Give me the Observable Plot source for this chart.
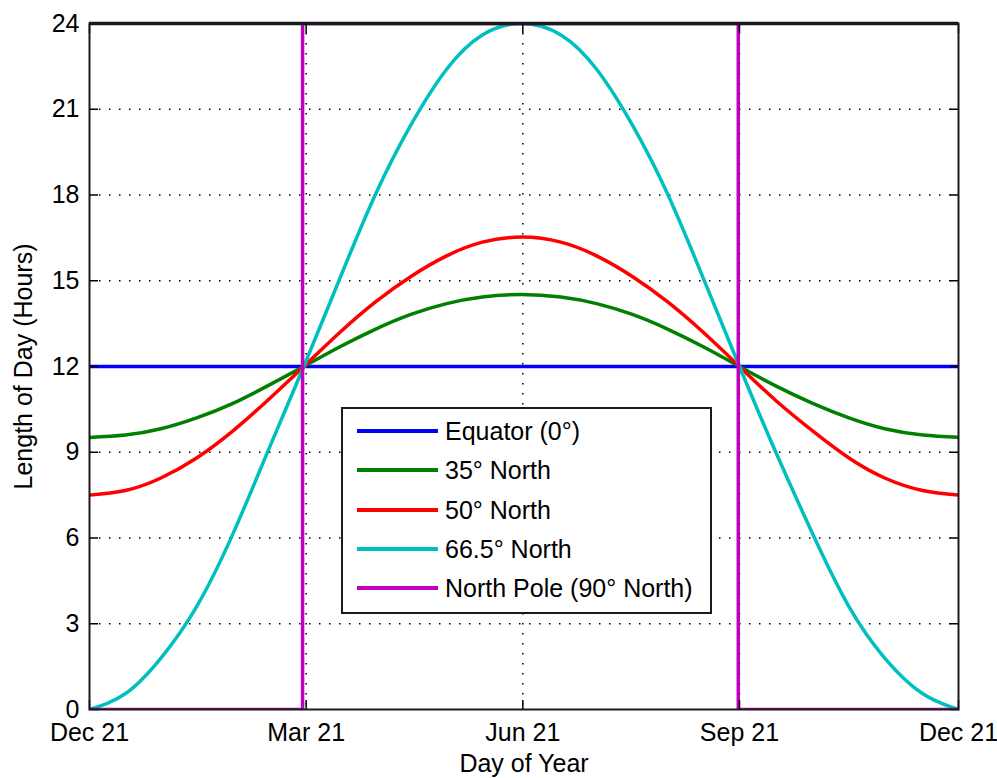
<!DOCTYPE html>
<html>
<head>
<meta charset="utf-8">
<script src="https://cdn.jsdelivr.net/npm/d3@7"></script>
<script src="https://cdn.jsdelivr.net/npm/@observablehq/plot@0.6"></script>
<style>
  body { margin: 0; background: white; }
  #wrap { position: relative; width: 997px; height: 778px; font-family: "Liberation Sans", Arial, sans-serif; }
  #legend { position: absolute; left: 341px; top: 407px; width: 367px; height: 203px; border: 2px solid #1a1a1a; background: white; }
  .row { position: absolute; left: 0; height: 0; }
  .sw { position: absolute; left: 14px; width: 81px; height: 4px; top: -2px; }
  .lab { position: absolute; left: 102px; top: -15px; font-size: 25px; line-height: 30px; white-space: nowrap; color: #000; }
</style>
</head>
<body>
<div id="wrap"></div>
<script>
// ---- data ----
const seriesNames = ["Equator (0°)", "35° North", "50° North", "66.5° North", "North Pole (90° North)"];
const seriesColors = ["#0000ff", "#008000", "#ff0000", "#00bfbf", "#bf00bf"];

const equatorDays = [0, 365];
const equatorHours = [12, 12];

const curveDays = [0, 15, 30, 45, 60, 75, 90, 105, 120, 135, 150, 165, 181.5,
                   198, 213, 228, 243, 258, 273, 288, 304, 319, 334, 350, 365];
const north35Hours = [9.52, 9.6, 9.82, 10.2, 10.7, 11.33, 12.0, 12.68, 13.3, 13.82, 14.2, 14.43, 14.52,
                      14.43, 14.2, 13.82, 13.3, 12.68, 12.0, 11.33, 10.7, 10.2, 9.82, 9.6, 9.52];
const north50Hours = [7.5, 7.66, 8.1, 8.8, 9.73, 10.83, 12.0, 13.18, 14.25, 15.15, 15.87, 16.35, 16.53,
                      16.35, 15.87, 15.15, 14.25, 13.18, 12.0, 10.83, 9.73, 8.8, 8.1, 7.66, 7.5];
const north665Hours = [0, 0.55, 1.8, 3.6, 6.1, 9.05, 12.0, 15.05, 18.0, 20.45, 22.4, 23.6, 24,
                       23.6, 22.4, 20.45, 18.0, 15.05, 12.0, 9.05, 6.1, 3.6, 1.8, 0.55, 0];

const poleDays = [0, 89.5, 89.5, 272.5, 272.5, 365];
const poleHours = [0, 0, 24, 24, 0, 0];

const xTicks = [0, 91, 182, 273, 365];
const xTickLabels = ["Dec 21", "Mar 21", "Jun 21", "Sep 21", "Dec 21"];
const yTicks = [0, 3, 6, 9, 12, 15, 18, 21, 24];
const xGridTicks = [91, 182, 273];
const yGridTicks = [3, 6, 9, 12, 15, 18, 21];
const yTop = [24];

// ---- tables ----
const toRows = (days, hours, name) => days.map((d, i) => ({day: d, hours: hours[i], series: name}));
const equator = toRows(equatorDays, equatorHours, seriesNames[0]);
const smooth = [
  ...toRows(curveDays, north35Hours, seriesNames[1]),
  ...toRows(curveDays, north50Hours, seriesNames[2]),
  ...toRows(curveDays, north665Hours, seriesNames[3])
];
const pole = toRows(poleDays, poleHours, seriesNames[4]);

const FS = 25;
const chart = Plot.plot({
  width: 997,
  height: 778,
  marginLeft: 89,
  marginRight: 39,
  marginTop: 23,
  marginBottom: 69,
  style: {fontFamily: "'Liberation Sans', Arial, sans-serif", fontSize: FS + "px", background: "white", color: "black"},
  x: {domain: [0, 365]},
  y: {domain: [0, 24]},
  color: {domain: seriesNames, range: seriesColors},
  marks: [
    Plot.gridY(yGridTicks, {stroke: "black", strokeOpacity: 1, strokeWidth: 1.5, strokeDasharray: "1.5,8.5"}),
    Plot.gridX(xGridTicks, {stroke: "black", strokeOpacity: 1, strokeWidth: 1.5, strokeDasharray: "1.5,8.5"}),
    Plot.line(equator, {x: "day", y: "hours", stroke: "series", strokeWidth: 3.5, clip: true}),
    Plot.line(smooth, {x: "day", y: "hours", z: "series", stroke: "series", strokeWidth: 3.5, curve: "natural", clip: true}),
    Plot.line(pole, {x: "day", y: "hours", stroke: "series", strokeWidth: 3.5, clip: true}),
    Plot.ruleY(yTop, {stroke: "#1a1a1a", strokeWidth: 3.6}),
    Plot.axisY({anchor: "left", ticks: yTicks, tickSize: -9, tickPadding: 19, label: null, fontSize: FS, strokeWidth: 1.5}),
    Plot.axisY({anchor: "right", ticks: yTicks, tickSize: -9, tickFormat: () => "", label: null, strokeWidth: 1.5}),
    Plot.axisX({anchor: "bottom", ticks: xTicks, tickSize: -9, tickPadding: 23, tickFormat: (d, i) => xTickLabels[i], label: null, fontSize: FS, strokeWidth: 1.5}),
    Plot.axisX({anchor: "top", ticks: xTicks, tickSize: -9, tickFormat: () => "", label: null, strokeWidth: 1.5}),
    Plot.frame({stroke: "#1a1a1a", strokeWidth: 2}),
    Plot.text(["Day of Year"], {text: d => d, frameAnchor: "bottom", dy: 54, textAnchor: "middle", lineAnchor: "middle", fontSize: FS}),
    Plot.text(["Length of Day (Hours)"], {text: d => d, frameAnchor: "left", dx: -66, rotate: -90, textAnchor: "middle", lineAnchor: "middle", fontSize: FS})
  ]
});

const wrap = document.getElementById("wrap");
wrap.appendChild(chart);

// ---- legend ----
const legend = document.createElement("div");
legend.id = "legend";
seriesNames.forEach((name, i) => {
  const row = document.createElement("div");
  row.className = "row";
  row.style.top = (22 + i * 39.3) + "px";
  const sw = document.createElement("div");
  sw.className = "sw";
  sw.style.background = seriesColors[i];
  const lab = document.createElement("div");
  lab.className = "lab";
  lab.textContent = name;
  row.appendChild(sw);
  row.appendChild(lab);
  legend.appendChild(row);
});
wrap.appendChild(legend);
</script>
</body>
</html>
